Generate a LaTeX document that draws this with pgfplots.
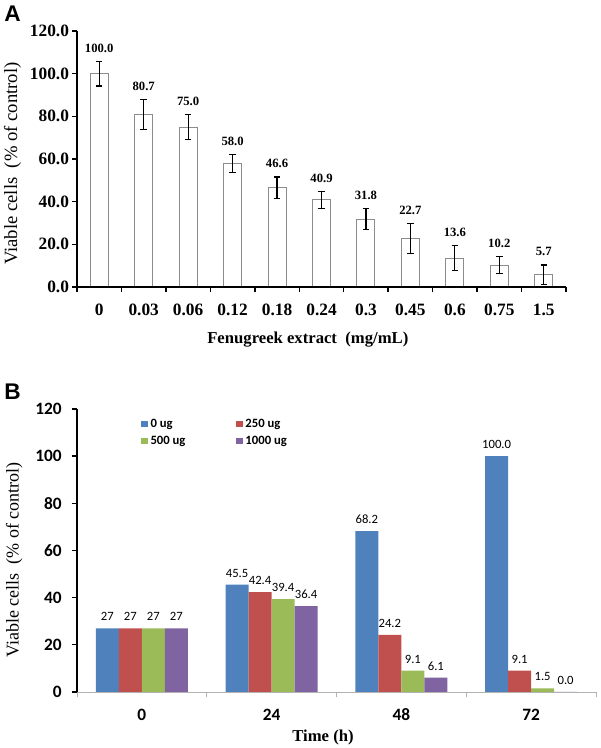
\documentclass[border=0pt]{standalone}
\usepackage{fontspec}
\setmainfont{Liberation Serif}
\newfontfamily\calibri{Carlito}
\newfontfamily\arialf{Liberation Sans}
\usepackage{pgfplots}
\usepackage{pgfplotstable}
\pgfplotsset{compat=1.18}
\definecolor{xblue}{HTML}{4F81BD}
\definecolor{xred}{HTML}{C0504D}
\definecolor{xgreen}{HTML}{9BBB59}
\definecolor{xpurple}{HTML}{8064A2}

\pgfplotstableread{
x y err label
0 100.0 5.8 100.0
1 80.7 7.0 80.7
2 75.0 6.0 75.0
3 58.0 4.2 58.0
4 46.6 5.0 46.6
5 40.9 4.0 40.9
6 31.8 5.0 31.8
7 22.7 7.0 22.7
8 13.6 6.0 13.6
9 10.2 4.0 10.2
10 5.7 4.6 5.7
}\tableA

\pgfplotstableread{
x y label
0 27 27
1 45.5 45.5
2 68.2 68.2
3 100.0 100.0
}\tableBa
\pgfplotstableread{
x y label
0 27 27
1 42.4 42.4
2 24.2 24.2
3 9.1 9.1
}\tableBb
\pgfplotstableread{
x y label
0 27 27
1 39.4 39.4
2 9.1 9.1
3 1.5 1.5
}\tableBc
\pgfplotstableread{
x y label
0 27 27
1 36.4 36.4
2 6.1 6.1
3 0.0 0.0
}\tableBd

\begin{document}
\begin{tikzpicture}
\useasboundingbox (0,0) rectangle (450pt,561pt);
\node[anchor=north west, inner sep=0pt, font=\arialf\bfseries\fontsize{17}{19}\selectfont] at (3pt,557pt) {A};
\node[anchor=north west, inner sep=0pt, font=\arialf\bfseries\fontsize{17}{19}\selectfont] at (3pt,273pt) {B};

% Panel A
\begin{axis}[
  at={(57.75pt,345.75pt)}, anchor=south west,
  width=366.75pt, height=192pt, scale only axis,
  xmin=-0.5, xmax=10.5, ymin=0, ymax=120,
  axis x line*=bottom, axis y line*=left,
  axis line style={line width=1.2pt, -},
  axis on top,
  tick align=outside,
  ytick={0,20,...,120},
  major tick length=3.5pt, minor tick length=4pt,
  every tick/.style={black, line width=1pt},
  xtick={0,...,10},
  xticklabels={0,0.03,0.06,0.12,0.18,0.24,0.3,0.45,0.6,0.75,1.5},
  major x tick style={draw=none},
  minor xtick={-0.5,0.5,...,10.5},
  minor x tick style={black, line width=1.1pt},
  /pgf/number format/assume math mode=true,
  tick label style={font=\bfseries\fontsize{13}{15}\selectfont},
  x tick label style={yshift=-6pt},
  y tick label style={xshift=1pt, /pgf/number format/.cd, fixed, fixed zerofill, precision=1},
  xlabel={Fenugreek extract\ \ (mg/mL)},
  xlabel style={font=\bfseries\fontsize{12.5}{14}\selectfont, at={(axis description cs:0.472,-0.207)}, anchor=center},
  ylabel={Viable cells\ \ (\% of control)},
  ylabel style={font=\fontsize{14}{16}\selectfont, at={(axis description cs:-0.132,0.482)}, anchor=center},
  clip=false,
]
\addplot[ybar, bar width=13.5pt, fill=white, draw=gray!90, line width=0.7pt,
  nodes near coords, point meta=explicit symbolic,
  visualization depends on={\thisrow{err} \as \errval},
  every node near coord/.append style={font=\bfseries\fontsize{9.5}{11}\selectfont, anchor=south, shift={(axis direction cs:0,\errval)}, yshift=3pt},
  error bars/y dir=both, error bars/y explicit,
  error bars/error bar style={black, line width=0.9pt},
  error bars/error mark options={rotate=90, black, mark size=2.4pt, line width=0.9pt}]
  table[x=x, y=y, y error=err, meta=label]{\tableA};
\end{axis}

% Panel B
\begin{axis}[
  at={(57.75pt,42pt)}, anchor=south west,
  width=389.25pt, height=212.25pt, scale only axis,
  xmin=-0.5, xmax=3.5, ymin=0, ymax=120,
  axis x line*=bottom, axis y line*=left,
  x axis line style={gray!60, line width=0.7pt, -},
  y axis line style={black, line width=1.4pt, -},
  tick align=outside,
  major tick length=4pt, minor tick length=4pt,
  ytick={0,20,...,120},
  y tick style={black, line width=1pt},
  xtick={0,1,2,3}, xticklabels={0,24,48,72},
  major x tick style={draw=none},
  minor xtick={-0.5,0.5,1.5,2.5,3.5},
  minor x tick style={gray!60, line width=0.7pt},
  /pgf/number format/assume math mode=true,
  tick label style={font=\calibri\bfseries\fontsize{13}{15}\selectfont},
  x tick label style={yshift=-5pt},
  y tick label style={xshift=-4pt},
  xlabel={Time (h)},
  xlabel style={font=\bfseries\fontsize{12.5}{14}\selectfont, at={(axis description cs:0.474,-0.16)}, anchor=center},
  ylabel={Viable cells\ \ (\% of control)},
  ylabel style={font=\fontsize{13.5}{15}\selectfont, at={(axis description cs:-0.121,0.466)}, anchor=center},
  ybar=0pt, bar width=17.25pt,
  nodes near coords, point meta=explicit symbolic,
  every node near coord/.append style={font=\calibri\fontsize{9.5}{11}\selectfont, anchor=south, yshift=2pt, black},
  legend columns=2,
  legend style={draw=none, fill=none, at={(axis description cs:0.115,0.985)}, anchor=north west,
    font=\calibri\bfseries\fontsize{9.5}{11}\selectfont, row sep=1pt},
  legend cell align=left,
  legend image code/.code={\fill[#1] (0pt,-2.6pt) rectangle (5.2pt,2.6pt);},
  clip=false,
]
\addplot[fill=xblue, draw=none] table[x=x, y=y, meta=label]{\tableBa};
\addplot[fill=xred, draw=none] table[x=x, y=y, meta=label]{\tableBb};
\addplot[fill=xgreen, draw=none] table[x=x, y=y, meta=label]{\tableBc};
\addplot[fill=xpurple, draw=none] table[x=x, y=y, meta=label]{\tableBd};
\legend{\makebox[62pt][l]{0 ug}, 250 ug, \makebox[62pt][l]{500 ug}, 1000 ug}
\end{axis}
\end{tikzpicture}
\end{document}
